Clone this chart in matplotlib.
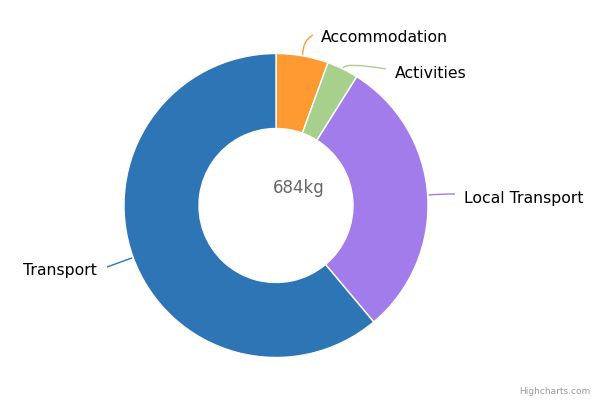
import numpy as np
import matplotlib
matplotlib.use("Agg")
import matplotlib.pyplot as plt
from matplotlib.path import Path
from matplotlib.patches import PathPatch

categories = ["Accommodation", "Activities", "Local Transport", "Transport"]
values = [38, 23, 205, 418]
colors = ["#FF9A33", "#A8D08D", "#A27CEB", "#2E75B6"]
total_label = "684kg"

W, H = 600, 400
fig = plt.figure(figsize=(6, 4), dpi=100)
ax = fig.add_axes([0, 0, 1, 1])

cx, cy = 276, H - 205.5
R, r_in = 152, 77
ax.pie(values, colors=colors, startangle=90, counterclock=False,
       center=(cx, cy), radius=R, frame=True,
       wedgeprops=dict(width=R - r_in, edgecolor="white", linewidth=1))
ax.set_xlim(0, W)
ax.set_ylim(0, H)
ax.set_aspect("equal")
ax.axis("off")

# label layout (pixel coordinates from top-left)
label_pos = [(321, 38), (395, 73), (464, 198), (97, 270)]
label_ha = ["left", "left", "left", "right"]
conn_end = [(313, 35), (386, 69), (455, 194), (107, 267)]
conn_ctrl = [(303, 40), (345, 62), (440, 194), (118, 263)]

cum = np.cumsum([0] + values)
tot = sum(values)
for i, cat in enumerate(categories):
    mid = (cum[i] + cum[i + 1]) / 2 / tot * 2 * np.pi
    sx = cx + (R + 1) * np.sin(mid)
    sy = cy + (R + 1) * np.cos(mid)
    ex, ey = conn_end[i][0], H - conn_end[i][1]
    qx, qy = conn_ctrl[i][0], H - conn_ctrl[i][1]
    p = Path([(sx, sy), (qx, qy), (ex, ey)], [Path.MOVETO, Path.CURVE3, Path.CURVE3])
    ax.add_patch(PathPatch(p, fc="none", ec=colors[i], lw=1))
    lx, ly = label_pos[i]
    ax.text(lx, H - ly, cat, ha=label_ha[i], va="center", fontsize=11.3,
            color="#000000", family="DejaVu Sans")

ax.text(273, H - 188, total_label, ha="left", va="center", fontsize=12,
        color="#666666")
ax.text(590, H - 392, "Highcharts.com", ha="right", va="center", fontsize=6.5,
        color="#999999")

fig.savefig("out.png", dpi=100, facecolor="white")
